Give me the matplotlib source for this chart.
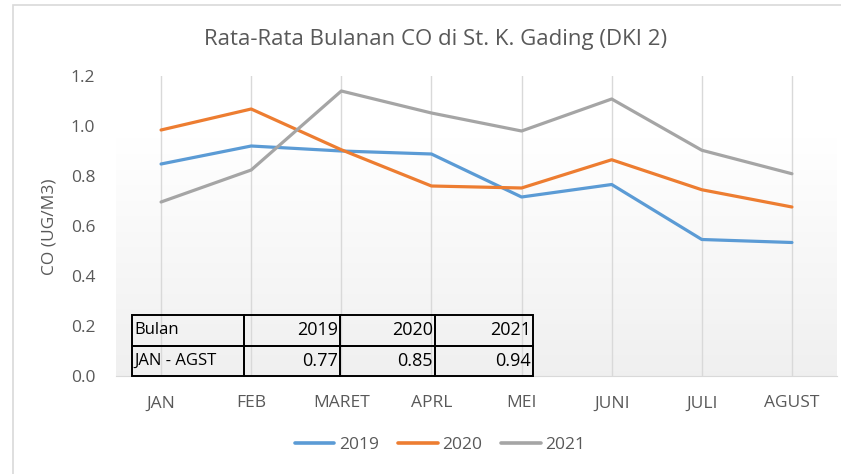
import matplotlib
matplotlib.use("Agg")
import matplotlib.pyplot as plt
import numpy as np
from matplotlib.patches import Rectangle

months = ["JAN", "FEB", "MARET", "APRL", "MEI", "JUNI", "JULI", "AGUST"]
co_2019 = [0.848, 0.920, 0.900, 0.888, 0.716, 0.766, 0.546, 0.534]
co_2020 = [0.984, 1.068, 0.905, 0.760, 0.752, 0.865, 0.745, 0.676]
co_2021 = [0.696, 0.824, 1.140, 1.052, 0.980, 1.108, 0.903, 0.809]
series_names = ["2019", "2020", "2021"]
table_header = ["Bulan", "2019", "2020", "2021"]
table_row = ["JAN - AGST", "0.77", "0.85", "0.94"]

colors = ["#5B9BD5", "#ED7D31", "#A5A5A5"]
txt = "#595959"

plt.rcParams['font.family'] = ['Open Sans', 'DejaVu Sans']

W, H = 841, 474
fig = plt.figure(figsize=(W/100, H/100), dpi=100)
fig.patch.set_facecolor("white")
# outer chart frame
fig.add_artist(Rectangle((13/W, -0.05), 1.0, 1 - 5/H + 0.05, transform=fig.transFigure,
                         fill=False, edgecolor="#d9d9d9", linewidth=1.2))

L, R, B, T = 116, 837, 376, 76
ax = fig.add_axes([L/W, 1 - B/H, (R-L)/W, (B-T)/H])
ax.set_xlim(-0.5, len(months) - 0.5)
ax.set_ylim(0, 1.2)

# vertical gradient background
yy = np.linspace(1.2, 0, 300)
start = 0.95
vals = np.where(yy > start, 1.0, 1.0 - (start - yy) / start * 0.06)
img = np.repeat(vals[:, None, None], 3, axis=2)
ax.imshow(img, extent=(-0.5, len(months) - 0.5, 0, 1.2), aspect="auto", zorder=0)

x = np.arange(len(months))
for i in x:
    ax.axvline(i, color="#d9d9d9", linewidth=1.0, zorder=1)

for data, name, c in zip([co_2019, co_2020, co_2021], series_names, colors):
    ax.plot(x, data, color=c, linewidth=2.3, label=name, zorder=3, solid_capstyle="round")

ax.set_xticks(x)
ax.set_xticklabels(months, color=txt, fontsize=12.5)
yt = np.arange(0, 1.21, 0.2)
ax.set_yticks(yt)
ax.set_yticklabels([f"{v:.1f}" for v in yt], color=txt, fontsize=12.5)
ax.tick_params(axis="x", length=0, pad=14)
ax.tick_params(axis="y", length=0, pad=15)
for s in ["top", "right", "left"]:
    ax.spines[s].set_visible(False)
ax.spines["bottom"].set_color("#d9d9d9")
ax.spines["bottom"].set_zorder(4)

fig.text(50/W, 1 - 227/H, "CO (UG/M3)", color=txt, fontsize=12.5, rotation=90,
         ha="center", va="center")
fig.text(436/W, 1 - 40/H, "Rata-Rata Bulanan CO di St. K. Gading (DKI 2)", color=txt,
         fontsize=16, ha="center", va="center")

# table
cols = [132, 244, 340, 435, 533]
tbl = ax.table(cellText=[table_header, table_row], cellLoc="right",
               colWidths=list(np.diff(cols)),
               bbox=[(cols[0]-L)/(R-L), 0, (cols[-1]-cols[0])/(R-L), (B-315)/(B-T)])
tbl.auto_set_font_size(False)
for (r, c), cell in tbl.get_celld().items():
    cell.set_facecolor("none")
    cell.set_edgecolor("black")
    cell.set_linewidth(1.4)
    cell.get_text().set_fontsize(13 if c > 0 else 12)
    cell.get_text().set_color("black")
    cell.PAD = 0.02
    if c == 0:
        cell.get_text().set_ha("left")
        cell._loc = "left"
tbl.set_zorder(5)

leg = fig.legend(*ax.get_legend_handles_labels(), loc="center", bbox_to_anchor=(440/W, 1 - 445/H),
                 ncol=3, frameon=False, fontsize=12.5, handlelength=2.3, handletextpad=0.25,
                 columnspacing=1.1)
for t in leg.get_texts():
    t.set_color(txt)
for l in leg.get_lines():
    l.set_linewidth(2.6)

fig.savefig("out.png", dpi=100)
